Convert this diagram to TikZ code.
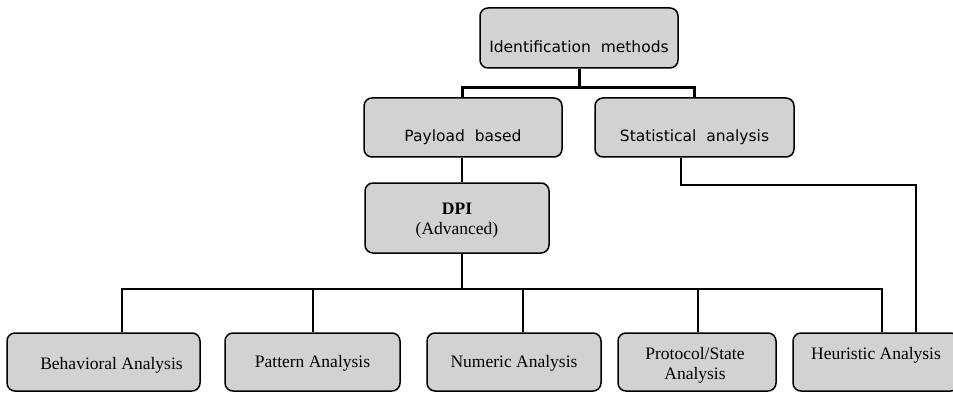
\documentclass[tikz,border=0pt]{standalone}
\usepackage{fontspec}
\setmainfont{Liberation Serif}
\newfontfamily\boxsans{DejaVu Sans}[WordSpace=2]
\usetikzlibrary{calc}
\definecolor{boxfill}{RGB}{210,210,210}
\tikzset{
  box/.style={draw=black, fill=boxfill, line width=1.5pt, rounded corners=8pt,
              inner sep=0pt},
  sanslbl/.style={font=\boxsans\fontsize{15.5}{18}\selectfont},
  seriflbl/.style={font=\fontsize{17.5}{20}\selectfont, align=center},
  thick link/.style={line width=3pt},
  thin link/.style={line width=1.5pt},
}
\begin{document}
\begin{tikzpicture}[x=1pt, y=-1pt]
  \useasboundingbox (0,0) rectangle (953,393);
  \clip (0,0) rectangle (953,393);
  \fill[white] (0,0) rectangle (953,393);

  % upper level
  \node[box, minimum width=198, minimum height=60,
        label={[sanslbl, yshift=-9pt]center:Identification methods}]
        (ident) at (579,38) {};
  \node[box, minimum width=198, minimum height=59,
        label={[sanslbl, yshift=-10pt]center:Payload based}]
        (payload) at (463,127.5) {};
  \node[box, minimum width=199, minimum height=59,
        label={[sanslbl, yshift=-10pt]center:Statistical analysis}]
        (stat) at (694.5,127.5) {};

  % DPI
  \node[box, minimum width=184, minimum height=70,
        label={[seriflbl, yshift=-3pt]center:{\bfseries DPI}\\(Advanced)}]
        (dpi) at (457,218) {};

  % analysis methods
  \node[box, minimum width=193, minimum height=58,
        label={[seriflbl, xshift=8pt, yshift=-3pt]center:Behavioral Analysis}]
        (behav) at (103.5,362) {};
  \node[box, minimum width=175, minimum height=58,
        label={[seriflbl, yshift=-1pt]center:Pattern Analysis}]
        (pattern) at (312.5,362) {};
  \node[box, minimum width=174, minimum height=58,
        label={[seriflbl, yshift=-1pt]center:Numeric Analysis}]
        (numeric) at (514,362) {};
  \node[box, minimum width=158, minimum height=58,
        label={[seriflbl, xshift=-2pt, yshift=-3pt]center:Protocol/State\\Analysis}]
        (protocol) at (697,362) {};
  \node[box, minimum width=166, minimum height=58,
        label={[seriflbl, yshift=7pt]center:Heuristic Analysis}]
        (heur) at (876,362) {};

  % top tree
  \coordinate (topbus) at (579,88);
  \coordinate (ptop) at ([xshift=-1pt]payload.north);
  \draw[thick link] (ident.south) -- (topbus);
  \draw[thick link] (ptop) |- (topbus) -| (stat.north);

  % payload to DPI
  \coordinate (pstem) at ([xshift=-1pt]payload.south);
  \draw[thin link] (pstem) -- (pstem |- dpi.north);

  % DPI to the analysis methods
  \coordinate (bus) at (462,289);
  \draw[thin link] (bus |- dpi.south) -- (bus);
  \draw[thin link] ([xshift=18.5pt]behav.north) |- (bus)
                   -| ([xshift=6pt]heur.north);
  \draw[thin link] ([xshift=0.5pt]pattern.north) -- ++(0,-44);
  \draw[thin link] ([xshift=9pt]numeric.north) -- ++(0,-44);
  \draw[thin link] ([xshift=1pt]protocol.north) -- ++(0,-44);

  % statistical analysis to heuristic
  \coordinate (sstem) at ([xshift=-13.5pt]stat.south);
  \coordinate (hstem) at ([xshift=40pt]heur.north);
  \draw[thin link] (sstem) |- ++(235,27) -- (hstem);
\end{tikzpicture}
\end{document}
